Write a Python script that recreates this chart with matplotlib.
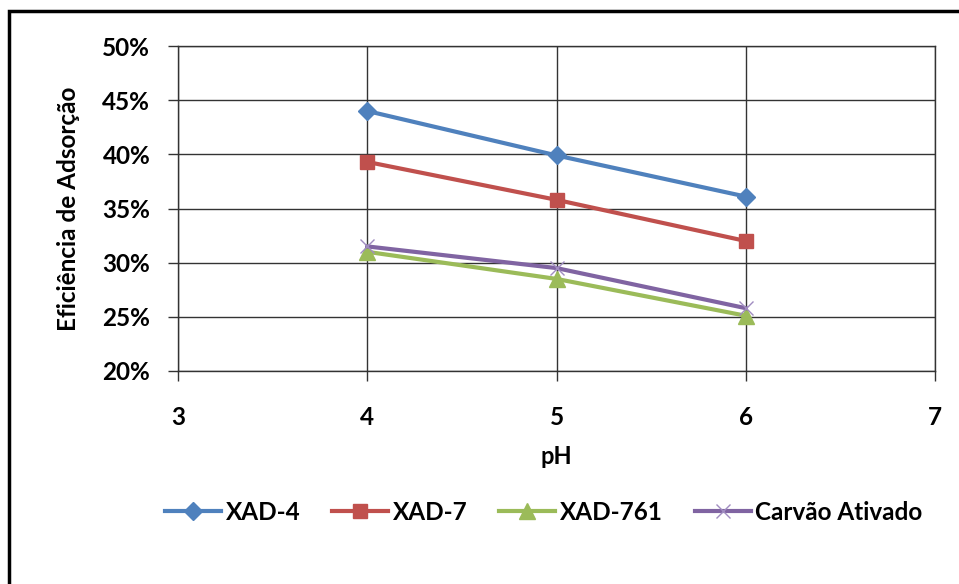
import matplotlib.pyplot as plt
from matplotlib.patches import Rectangle
from matplotlib.ticker import FuncFormatter

# dados
ph = [4, 5, 6]
xad4 = [44.0, 39.9, 36.1]
xad7 = [39.3, 35.8, 32.0]
xad761 = [31.0, 28.5, 25.1]
carvao = [31.5, 29.5, 25.8]
nomes = ['XAD-4', 'XAD-7', 'XAD-761', 'Carvão Ativado']

plt.rcParams['font.family'] = ['Lato', 'DejaVu Sans']

fig = plt.figure(figsize=(9.59, 5.84), dpi=100)
ax = fig.add_axes([178/959, 1-371/584, (935-178)/959, (371-46)/584])

# moldura externa
fig.patches.append(Rectangle((9/959, -0.1), 1.2, 1-11/584+0.1, transform=fig.transFigure,
                             fill=False, edgecolor='black', linewidth=2.5))

ax.plot(ph, xad4, color='#4F81BD', lw=3, marker='D', ms=9, label=nomes[0])
ax.plot(ph, xad7, color='#C0504D', lw=3, marker='s', ms=10, label=nomes[1])
ax.plot(ph, xad761, color='#9BBB59', lw=3, marker='^', ms=11, label=nomes[2])
ax.plot(ph, carvao, color='#8064A2', lw=3, marker='x', ms=10, mew=1, mec='#A08CC0', label=nomes[3])

ax.set_xlim(3, 7)
ax.set_ylim(20, 50)
ax.set_xticks([3, 4, 5, 6, 7])
ax.set_yticks([20, 25, 30, 35, 40, 45, 50])
ax.yaxis.set_major_formatter(FuncFormatter(lambda v, p: '%d%%' % v))
ax.grid(True, color='#333333', lw=1)
ax.set_axisbelow(True)
for s in ax.spines.values():
    s.set_color('#333333')
    s.set_linewidth(1)
ax.tick_params(axis='both', length=7, width=1, color='#333333', labelsize=17.5)
ax.tick_params(axis='x', pad=18)
ax.tick_params(axis='y', pad=13)
for t in ax.get_xticklabels() + ax.get_yticklabels():
    t.set_fontweight('bold')

ax.set_xlabel('pH', fontsize=17, fontweight='bold', labelpad=12)
ax.set_ylabel('Eficiência de Adsorção', fontsize=17.5, fontweight='bold', labelpad=16)

fig.legend(loc='center', bbox_to_anchor=(544/959, 1-512/584), ncol=4, frameon=False,
           prop={'size': 17.5, 'weight': 'bold'}, handlelength=2.3, handletextpad=0.2,
           columnspacing=1.3)

fig.savefig('out.png', dpi=100)
